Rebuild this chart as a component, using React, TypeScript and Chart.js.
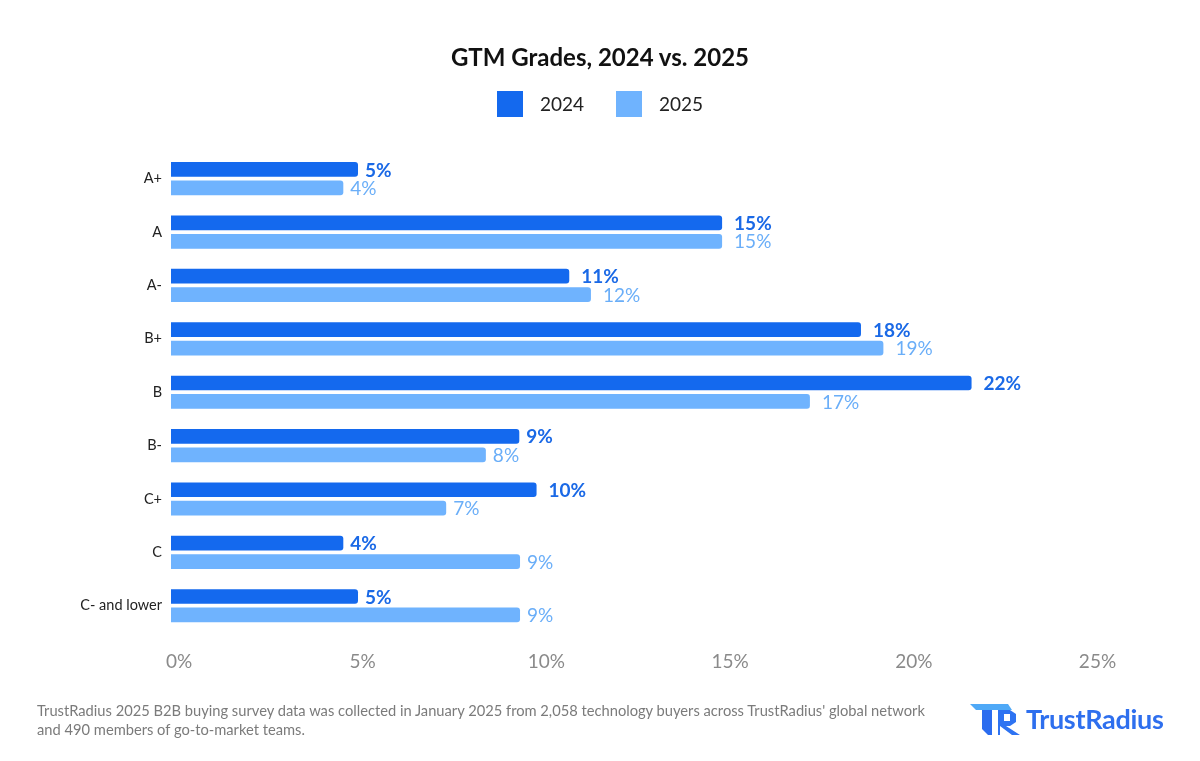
import React, { useEffect, useRef } from "react";
import { Chart, registerables } from "chart.js";

Chart.register(...registerables);

const categories = ["A+", "A", "A-", "B+", "B", "B-", "C+", "C", "C- and lower"];
const values2024 = [5.09, 15.0, 10.84, 18.78, 21.79, 9.48, 9.95, 4.69, 5.09];
const values2025 = [4.69, 15.0, 11.43, 19.39, 17.39, 8.57, 7.49, 9.5, 9.5];
const labels2024 = ["5%", "15%", "11%", "18%", "22%", "9%", "10%", "4%", "5%"];
const labels2025 = ["4%", "15%", "12%", "19%", "17%", "8%", "7%", "9%", "9%"];
const xTicks = [0, 5, 10, 15, 20, 25];
const seriesNames = ["2024", "2025"];
const barColors = ["#1469EE", "#6FB3FE"];
const labelColors = ["#1A69E6", "#6AAEF8"];

const FONT = "Lato, 'Noto Sans', sans-serif";

const valueLabels = {
  id: "valueLabels",
  afterDatasetsDraw(chart: any) {
    const ctx = chart.ctx;
    const sets = [labels2024, labels2025];
    chart.data.datasets.forEach((_ds: any, di: number) => {
      const meta = chart.getDatasetMeta(di);
      meta.data.forEach((bar: any, i: number) => {
        const text = sets[di][i];
        ctx.save();
        ctx.font = `${di === 0 ? "bold" : "normal"} 19px ${FONT}`;
        ctx.fillStyle = labelColors[di];
        ctx.textBaseline = "middle";
        ctx.textAlign = "left";
        ctx.fillText(text, bar.x + (text.length > 2 ? 12 : 7), bar.y + 1);
        ctx.restore();
      });
    });
  },
};

export default function App() {
  const ref = useRef<HTMLCanvasElement | null>(null);

  useEffect(() => {
    if (!ref.current) return;
    const chart = new Chart(ref.current, {
      type: "bar",
      data: {
        labels: categories,
        datasets: [
          {
            label: seriesNames[0],
            data: values2024,
            backgroundColor: barColors[0],
            borderRadius: 3,
            borderSkipped: "start",
            categoryPercentage: 0.69,
            barPercentage: 0.8,
          },
          {
            label: seriesNames[1],
            data: values2025,
            backgroundColor: barColors[1],
            borderRadius: 3,
            borderSkipped: "start",
            categoryPercentage: 0.69,
            barPercentage: 0.8,
          },
        ],
      },
      options: {
        indexAxis: "y",
        animation: false,
        responsive: true,
        maintainAspectRatio: false,
        layout: { padding: { top: 152, bottom: 68.6, left: 0, right: 110.5 } },
        plugins: {
          legend: { display: false },
          title: { display: false },
          tooltip: { enabled: false },
        },
        scales: {
          x: {
            min: 0,
            max: 25,
            afterBuildTicks: (s: any) => {
              s.ticks = xTicks.map((v) => ({ value: v }));
            },
            afterFit: (s: any) => {
              s.height = 60;
            },
            grid: { display: false, drawTicks: false },
            border: { display: false },
            ticks: {
              callback: (v: any) => v + "%",
              color: "#8A8A8A",
              font: { family: FONT, size: 19 },
              padding: 18,
              labelOffset: 8,
              maxRotation: 0,
            },
          },
          y: {
            afterFit: (s: any) => {
              s.width = 171;
            },
            grid: { display: false, drawTicks: false },
            border: { display: false },
            ticks: {
              color: "#222222",
              font: { family: FONT, size: 14.5 },
              padding: 9,
            },
          },
        },
      },
      plugins: [valueLabels],
    } as any);
    return () => chart.destroy();
  }, []);

  return (
    <div
      style={{
        position: "absolute",
        left: 0,
        top: 0,
        width: 1200,
        height: 761,
        background: "#ffffff",
        fontFamily: FONT,
        overflow: "hidden",
      }}
    >
      <div style={{ position: "absolute", left: 0, top: 0, width: 1200, height: 761 }}>
        <canvas ref={ref} />
      </div>
      <div
        style={{
          position: "absolute",
          left: 0,
          top: 40,
          width: 1200,
          textAlign: "center",
          fontSize: 24,
          fontWeight: 700,
          color: "#111111",
          lineHeight: "34px",
        }}
      >
        GTM Grades, 2024 vs. 2025
      </div>
      <div
        style={{
          position: "absolute",
          left: 0,
          top: 91,
          width: 1200,
          display: "flex",
          justifyContent: "center",
          gap: 32,
        }}
      >
        {seriesNames.map((n, i) => (
          <div key={n} style={{ display: "flex", alignItems: "center", gap: 17 }}>
            <div style={{ width: 26, height: 26, background: barColors[i] }} />
            <span style={{ fontSize: 19, color: "#222222", lineHeight: "26px" }}>{n}</span>
          </div>
        ))}
      </div>
      <div
        style={{
          position: "absolute",
          left: 37,
          top: 701,
          fontSize: 14.7,
          lineHeight: "19px",
          color: "#7B7B7B",
          whiteSpace: "nowrap",
        }}
      >
        TrustRadius 2025 B2B buying survey data was collected in January 2025 from 2,058 technology buyers across TrustRadius' global network
        <br />
        and 490 members of go-to-market teams.
      </div>
      <div
        style={{
          position: "absolute",
          left: 968,
          top: 700,
          display: "flex",
          alignItems: "center",
          gap: 4,
        }}
      >
        <svg width="54" height="36" viewBox="0 0 54 36">
          <polygon points="2,4 40,4 44,10 8,10" fill="#4FA9F7" />
          <polygon points="14,10 24,10 24,35 20,35 14,29" fill="#2B6CEF" />
          <polygon points="30,10 42,10 48,14 48,22 42,26 38,26 52,35 44,35 32,26 32,35 30,35" fill="#2E73F2" />
          <polygon points="36,14 42,14 42,21 36,21" fill="#ffffff" />
        </svg>
        <span style={{ fontSize: 27, fontWeight: 700, color: "#2E6FEE", letterSpacing: -0.3 }}>TrustRadius</span>
      </div>
    </div>
  );
}
